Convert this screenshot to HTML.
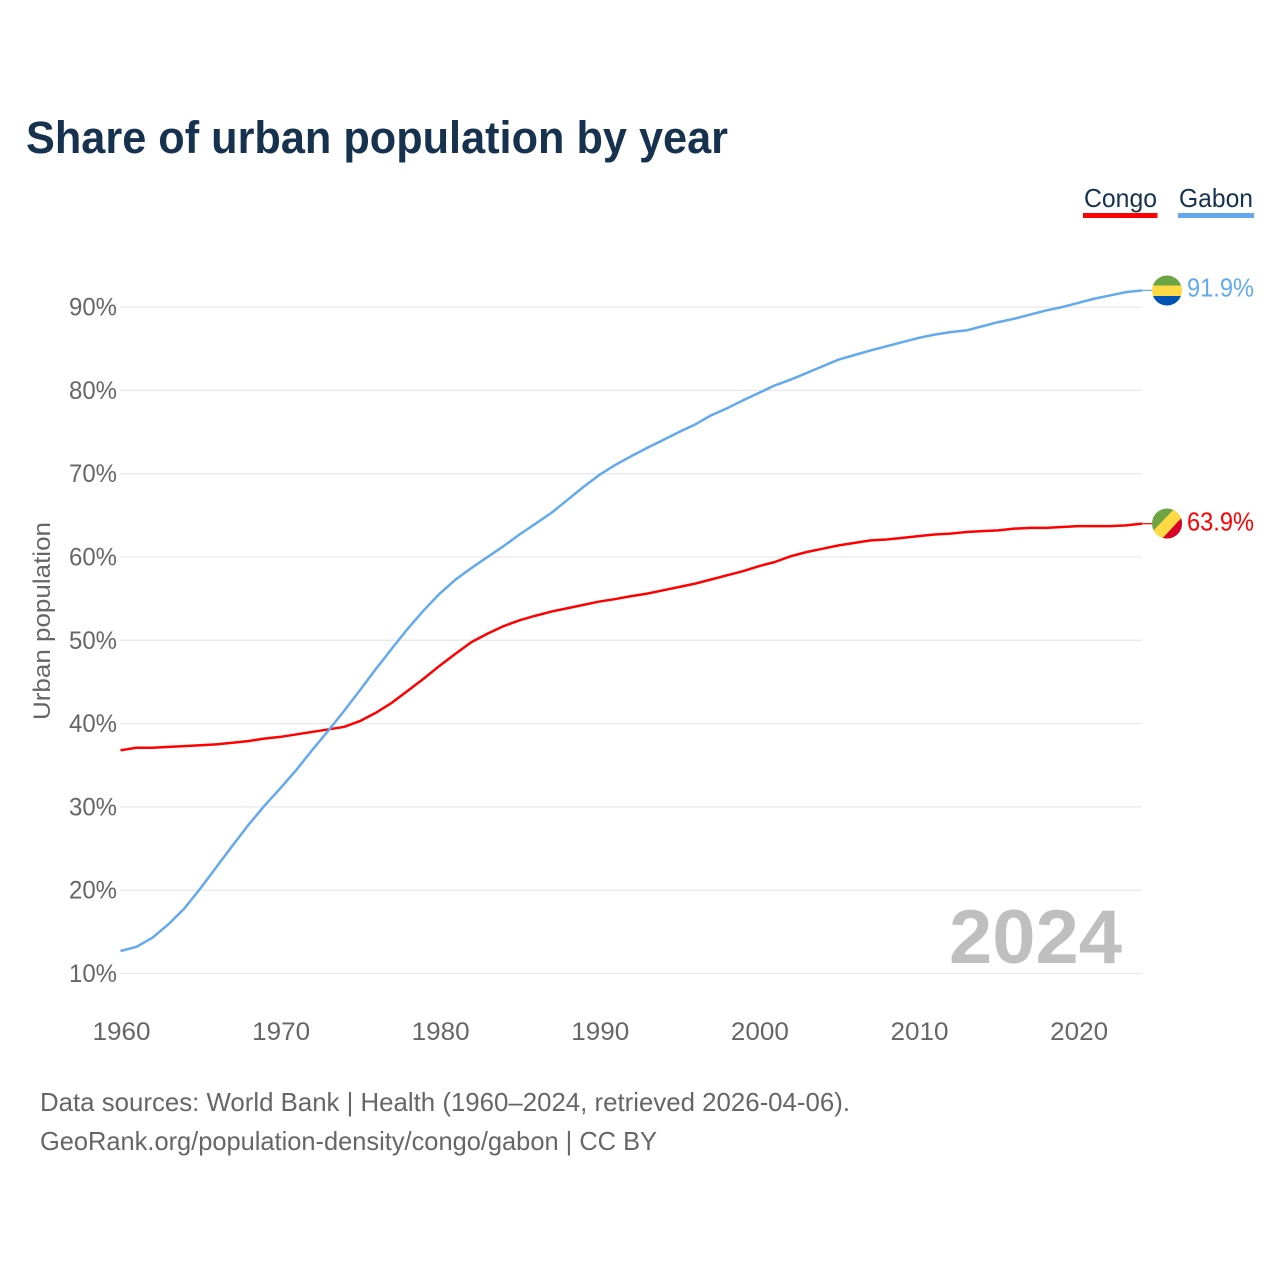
<!DOCTYPE html>
<html lang="en">
<head>
<meta charset="utf-8">
<title>Share of urban population by year</title>
<style>
  html, body { margin: 0; padding: 0; background: #ffffff; width: 1280px; height: 1280px; overflow: hidden; }
  svg { display: block; font-family: "Liberation Sans", "DejaVu Sans", sans-serif; }
</style>
</head>
<body>
<svg id="chart" xmlns="http://www.w3.org/2000/svg" width="1280" height="1280" viewBox="0 0 1280 1280">
  <rect x="0" y="0" width="1280" height="1280" fill="#ffffff"/>
  <text x="26" y="153" font-size="45" font-weight="700" fill="#17324f" textLength="702" lengthAdjust="spacingAndGlyphs">Share of urban population by year</text>

  <g>
    <text x="1084" y="207" font-size="26" fill="#17324f" textLength="73" lengthAdjust="spacingAndGlyphs">Congo</text>
    <rect x="1083" y="213" width="74.5" height="5" fill="#ff0000"/>
  </g>
  <g>
    <text x="1179" y="207" font-size="26" fill="#17324f" textLength="74" lengthAdjust="spacingAndGlyphs">Gabon</text>
    <rect x="1178" y="213" width="76" height="5" fill="#63a9ee"/>
  </g>

  <g id="grid"></g>
  <g id="y-ticks"></g>
  <g id="x-ticks"></g>
  <text transform="translate(50 621) rotate(-90)" text-anchor="middle" font-size="24" fill="#666666" textLength="198" lengthAdjust="spacingAndGlyphs">Urban population</text>

  <text x="949" y="963" font-size="76" font-weight="700" fill="#bfbfbf" textLength="173" lengthAdjust="spacingAndGlyphs">2024</text>

  <g id="series"></g>

  <defs>
    <clipPath id="clip-gabon"><circle cx="1167" cy="290.5" r="15"/></clipPath>
    <clipPath id="clip-congo"><circle cx="1167" cy="523.5" r="15"/></clipPath>
  </defs>

  <g clip-path="url(#clip-gabon)">
    <rect x="1152" y="275" width="30" height="10.5" fill="#6da544"/>
    <rect x="1152" y="285.5" width="30" height="10.5" fill="#ffda44"/>
    <rect x="1152" y="296" width="30" height="10" fill="#0052b4"/>
  </g>
  <g clip-path="url(#clip-congo)">
    <rect x="1152" y="508" width="30" height="31" fill="#6da544"/>
    <polygon points="1186,512 1186,540 1158,540" fill="#d80027"/>
    <polygon points="1178,505 1186,513 1160,541 1151,533" fill="#ffda44"/>
  </g>

  <text x="1187" y="296.5" font-size="26" fill="#63a9ee" textLength="67" lengthAdjust="spacingAndGlyphs">91.9%</text>
  <text x="1187" y="530.5" font-size="26" fill="#ff0000" textLength="67" lengthAdjust="spacingAndGlyphs">63.9%</text>

  <text x="40" y="1111" font-size="26" fill="#666666" textLength="810" lengthAdjust="spacingAndGlyphs">Data sources: World Bank | Health (1960–2024, retrieved 2026-04-06).</text>
  <text x="40" y="1150" font-size="26" fill="#666666" textLength="617" lengthAdjust="spacingAndGlyphs">GeoRank.org/population-density/congo/gabon | CC BY</text>
</svg>
<script>
const startYear = 1960;
const yTickValues = [10, 20, 30, 40, 50, 60, 70, 80, 90];
const xTickValues = [1960, 1970, 1980, 1990, 2000, 2010, 2020];
const congoValues = [
  36.8, 37.1, 37.1, 37.2, 37.3, 37.4, 37.5, 37.7, 37.9, 38.2,
  38.4, 38.7, 39.0, 39.3, 39.6, 40.3, 41.3, 42.5, 43.95, 45.4,
  46.95, 48.4, 49.8, 50.8, 51.7, 52.4, 52.95, 53.45, 53.85, 54.25,
  54.65, 54.95, 55.3, 55.6, 56.0, 56.4, 56.8, 57.3, 57.8, 58.3,
  58.9, 59.4, 60.1, 60.6, 61.0, 61.4, 61.7, 62.0, 62.1, 62.3,
  62.5, 62.7, 62.8, 63.0, 63.1, 63.2, 63.4, 63.5, 63.5, 63.6,
  63.7, 63.7, 63.7, 63.8, 64.0
];
const gabonValues = [
  12.7, 13.2, 14.3, 15.9, 17.8, 20.2, 22.75, 25.3, 27.8, 30.1,
  32.2, 34.4, 36.8, 39.1, 41.5, 44.0, 46.55, 49.0, 51.4, 53.6,
  55.6, 57.3, 58.7, 60.0, 61.3, 62.7, 64.0, 65.3, 66.85, 68.4,
  69.85, 71.05, 72.1, 73.1, 74.05, 75.0, 75.9, 77.0, 77.85, 78.8,
  79.7, 80.6, 81.3, 82.1, 82.9, 83.7, 84.25, 84.8, 85.3, 85.8,
  86.3, 86.7, 87.0, 87.2, 87.7, 88.2, 88.6, 89.1, 89.6, 90.0,
  90.5, 91.0, 91.4, 91.8, 92.0
];

const SVG_NS = 'http://www.w3.org/2000/svg';
function xScale(year) { return 120.5 + (year - 1960) * 15.96; }
function yScale(value) { return 973.5 - (value - 10) * 8.33; }

const grid = document.getElementById('grid');
const yTicks = document.getElementById('y-ticks');
const xTicks = document.getElementById('x-ticks');
const seriesGroup = document.getElementById('series');

yTickValues.forEach(function (v) {
  const line = document.createElementNS(SVG_NS, 'line');
  
  
  line.setAttribute('x1', 120);
  line.setAttribute('x2', 1142);
  line.setAttribute('y1', yScale(v));
  line.setAttribute('y2', yScale(v));
  line.setAttribute('stroke', '#e9e9e9');
  line.setAttribute('stroke-width', 1.3);
  grid.appendChild(line);

  const label = document.createElementNS(SVG_NS, 'text');
  
  
  label.setAttribute('x', 117);
  label.setAttribute('y', yScale(v) + 8.5);
  label.setAttribute('text-anchor', 'end');
  label.setAttribute('font-size', 25);
  label.setAttribute('fill', '#666666');
  label.setAttribute('textLength', 48);
  label.setAttribute('lengthAdjust', 'spacingAndGlyphs');
  label.textContent = v + '%';
  yTicks.appendChild(label);
});

xTickValues.forEach(function (year) {
  const label = document.createElementNS(SVG_NS, 'text');
  
  
  label.setAttribute('x', xScale(year) + 1);
  label.setAttribute('y', 1040);
  label.setAttribute('text-anchor', 'middle');
  label.setAttribute('font-size', 25);
  label.setAttribute('fill', '#666666');
  label.setAttribute('textLength', 58);
  label.setAttribute('lengthAdjust', 'spacingAndGlyphs');
  label.textContent = year;
  xTicks.appendChild(label);
});

function drawSeries(values, color, width, name) {
  const points = values.map(function (v, i) {
    return xScale(startYear + i).toFixed(2) + ',' + yScale(v).toFixed(2);
  });
  const path = document.createElementNS(SVG_NS, 'polyline');
  
  
  path.setAttribute('points', points.join(' '));
  path.setAttribute('fill', 'none');
  path.setAttribute('stroke', color);
  path.setAttribute('stroke-width', width);
  path.setAttribute('stroke-linejoin', 'round');
  seriesGroup.appendChild(path);

  const last = values[values.length - 1];
  const leader = document.createElementNS(SVG_NS, 'line');
  
  
  leader.setAttribute('x1', xScale(startYear + values.length - 1));
  leader.setAttribute('x2', 1153);
  leader.setAttribute('y1', yScale(last));
  leader.setAttribute('y2', yScale(last));
  leader.setAttribute('stroke', color);
  leader.setAttribute('stroke-width', 1.2);
  seriesGroup.appendChild(leader);
}

drawSeries(congoValues, '#ff0000', 2.5, 'line-congo');
drawSeries(gabonValues, '#63a9ee', 2.5, 'line-gabon');
</script>
</body>
</html>
